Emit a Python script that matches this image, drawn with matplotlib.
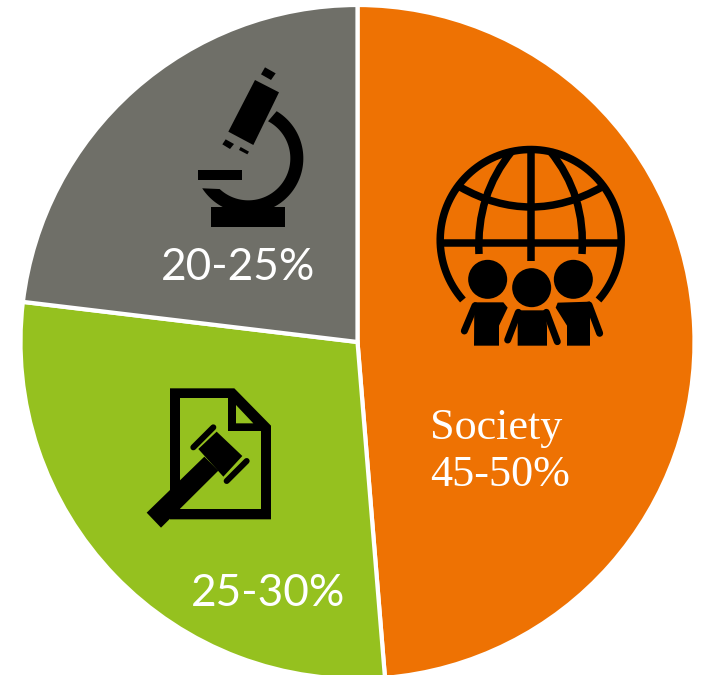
import numpy as np
import matplotlib
matplotlib.use('Agg')
import matplotlib.pyplot as plt
from matplotlib.patches import Circle, PathPatch, Polygon
from matplotlib.path import Path

# Quote delle fette (stimate dal grafico)
labels = ['Society', 'Law', 'Science']
shares = [48.7, 28.2, 23.1]
colors = ['#EE7203', '#95C11F', '#6F6F68']

W, H = 704, 675
PX = 0.72  # 1 px in punti a dpi=100

fig = plt.figure(figsize=(W / 100, H / 100), dpi=100)
ax = fig.add_axes([0, 0, 1, 1])

# con asse y invertito il verso antiorario appare orario
ax.pie(shares, colors=colors, center=(357.5, 342), radius=337, startangle=270,
       wedgeprops=dict(edgecolor='white', linewidth=4.2 * PX), frame=True)
ax.set_xlim(0, W)
ax.set_ylim(H, 0)  # coordinate come i pixel dell'immagine
ax.set_aspect('auto')
ax.axis('off')


def poly(pts, ox, oy, color='black', z=3):
    ax.add_patch(Polygon([(ox + x / 3, oy + y / 3) for x, y in pts], closed=True,
                         facecolor=color, edgecolor='none', zorder=z))


def bar(p1, p2, ox, oy, lw, cap='round'):
    ax.plot([ox + p1[0] / 3, ox + p2[0] / 3], [oy + p1[1] / 3, oy + p2[1] / 3],
            color='black', lw=lw * PX, solid_capstyle=cap, zorder=3)


def curve(p0, c, p1, lw):
    ax.add_patch(PathPatch(Path([p0, c, p1], [Path.MOVETO, Path.CURVE3, Path.CURVE3]),
                           facecolor='none', edgecolor='black', lw=lw * PX,
                           capstyle='butt', zorder=3))


### Icona globo + persone ###########################
ox, oy = 425, 135
gx, gy, gr = 530.7, 240, 90.5
t = np.radians(np.linspace(138.5, 401.5, 200))
ax.plot(gx + gr * np.cos(t), gy + gr * np.sin(t), color='black', lw=7.5 * PX,
        solid_capstyle='butt', zorder=3)
bar((317, 50), (317, 377), ox, oy, 7.5, 'butt')
bar((50, 325), (585, 325), ox, oy, 7.5, 'butt')
curve((460, 187), (530.7, 227), (602, 187), 7.5)
curve((512, 151), (476, 195), (479, 254), 7.5)
curve((550, 151), (586, 195), (582, 254), 7.5)

for cx, cy in [(188, 433), (320, 458), (445, 433)]:
    ax.add_patch(Circle((ox + cx / 3, oy + cy / 3), 19.5, facecolor='black',
                        edgecolor='none', zorder=3))
poly([(148, 502), (235, 502), (248, 518), (222, 572), (222, 632), (147, 632)], ox, oy)
bar((150, 512), (118, 588), ox, oy, 7)
poly([(280, 526), (362, 526), (366, 575), (366, 632), (278, 632), (278, 575)], ox, oy)
bar((280, 532), (248, 615), ox, oy, 7)
bar((364, 532), (397, 620), ox, oy, 7)
poly([(398, 503), (495, 500), (495, 632), (426, 632), (426, 572), (392, 518)], ox, oy)
bar((492, 510), (524, 595), ox, oy, 7)

### Icona documento + martelletto ###################
ox, oy = 135, 375
poly([(105, 40), (298, 40), (408, 152), (408, 433), (105, 433)], ox, oy)
poly([(135, 70), (280, 70), (280, 168), (378, 168), (378, 403), (135, 403)], ox, oy, colors[1])
poly([(303, 90), (355, 145), (303, 145)], ox, oy, colors[1])
poly([(35, 413), (208, 245), (250, 287), (78, 458)], ox, oy)
poly([(190, 222), (245, 170), (322, 243), (265, 305)], ox, oy)
bar((175, 217), (235, 157), ox, oy, 6)
bar((275, 318), (335, 258), ox, oy, 6)

### Icona microscopio ###############################
ox, oy = 185, 55
poly([(210, 75), (282, 112), (205, 270), (130, 230)], ox, oy)
poly([(240, 37), (272, 55), (258, 75), (228, 58)], ox, oy)
poly([(122, 253), (147, 267), (135, 282), (112, 268)], ox, oy)
poly([(167, 276), (192, 290), (187, 298), (162, 285)], ox, oy)
poly([(40, 345), (172, 345), (172, 375), (40, 375)], ox, oy)
poly([(78, 456), (300, 456), (300, 516), (78, 516)], ox, oy)
a_out = np.radians(np.linspace(-59, 147, 80))
a_in = np.radians(np.linspace(133, -62, 80))
pts = [(190 + 165 * np.cos(a), 310 + 165 * np.sin(a)) for a in a_out]
pts += [(190 + 126 * np.cos(a), 310 + 126 * np.sin(a)) for a in a_in]
poly(pts, ox, oy)

### Testi ###########################################
ax.text(430, 428, 'Society', color='white', family='Liberation Serif', fontsize=31.8,
        ha='left', va='center', zorder=4)
ax.text(430, 475, '45-50%', color='white', family='Liberation Serif', fontsize=31.8,
        ha='left', va='center', zorder=4)
ax.text(161, 267, '20-25%', color='white', family='Lato', fontsize=31.8,
        ha='left', va='center', zorder=4)
ax.text(191, 594, '25-30%', color='white', family='Lato', fontsize=31.8,
        ha='left', va='center', zorder=4)

fig.savefig('out.png', dpi=100)
